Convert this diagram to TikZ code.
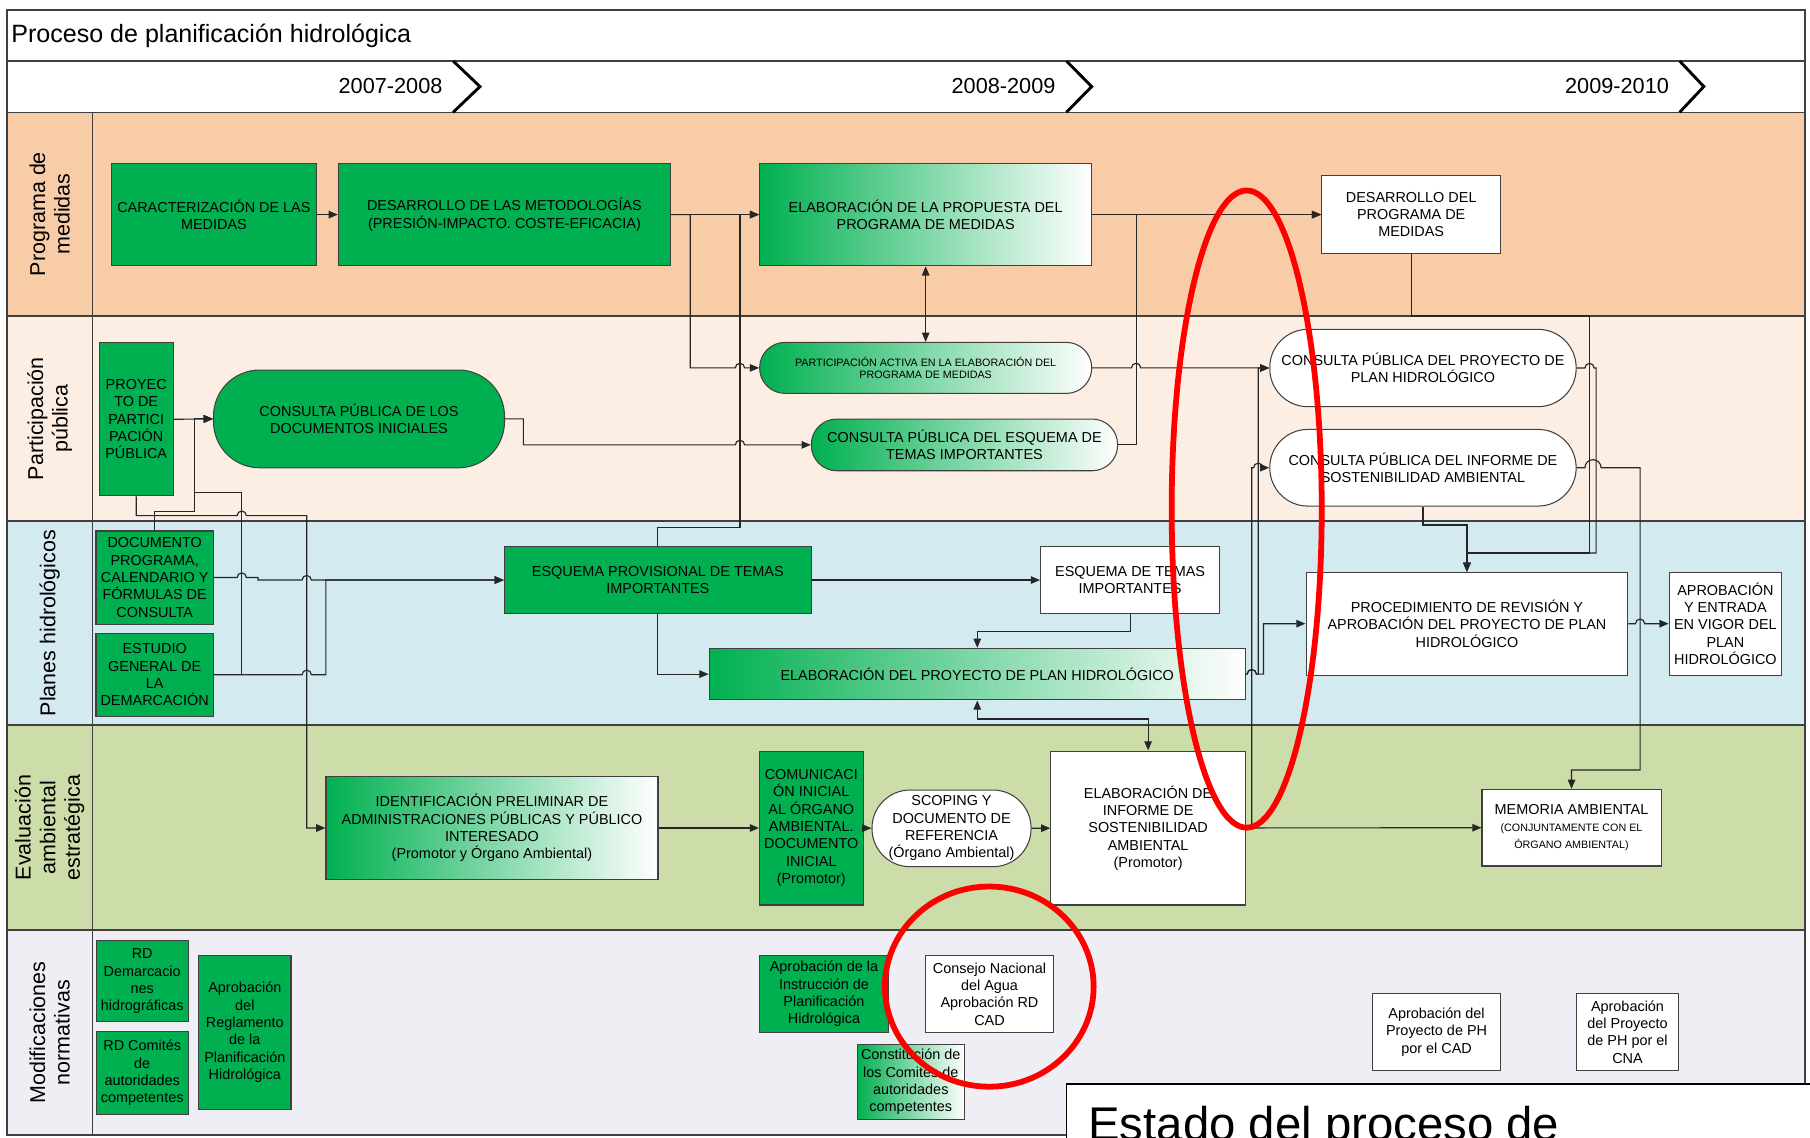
\documentclass[tikz,border=0pt]{standalone}
\usepackage{fontspec}
\setmainfont{Liberation Sans}
\usetikzlibrary{arrows.meta}
\definecolor{boxgreen}{RGB}{0,176,80}
\definecolor{lanepm}{RGB}{249,204,168}
\definecolor{lanepp}{RGB}{253,238,227}
\definecolor{laneph}{RGB}{210,234,240}
\definecolor{laneea}{RGB}{204,221,170}
\definecolor{lanemn}{RGB}{240,238,245}
\definecolor{edge}{RGB}{64,64,64}
\newcommand{\hop}[2]{-- (#1-4,#2) arc[start angle=180,end angle=360,radius=4]}
\newcommand{\smalltx}{\fontsize{9.3}{11}\selectfont}

\begin{document}
\begin{tikzpicture}[x=1pt,y=-1pt,
		tbox/.style={draw=edge,line width=0.9pt,align=center,inner sep=1pt,font=\fontsize{12.5}{15}\selectfont},
		gbox/.style={tbox,fill=boxgreen},
		wbox/.style={tbox,fill=white},
		fbox/.style={tbox,left color=boxgreen,right color=white},
		sz/.style 2 args={minimum width=#1pt,minimum height=#2pt},
		pill/.style={rounded corners=#1},
		conn/.style={draw=black!85,line width=1pt},
		arr/.style={conn,-{Triangle[length=8pt,width=6.5pt]}},
		dbl/.style={conn,{Triangle[length=8pt,width=6.5pt]}-{Triangle[length=8pt,width=6.5pt]}},
		lanelabel/.style={rotate=90,align=center,font=\fontsize{18.6}{21.3}\selectfont},
		year/.style={anchor=east,inner sep=0pt,font=\fontsize{18.8}{22}\selectfont},
		chev/.style={line width=2.5pt},
		ring/.style={draw=red,line width=5pt},
	]
	\path[use as bounding box] (0,0) rectangle (1568,985);
	\fill[white] (0,0) rectangle (1568,985);
	\fill[lanepm] (5.8,97.3) rectangle (1563.7,273.8);
	\fill[lanepp] (5.8,273.8) rectangle (1563.7,451.4);
	\fill[laneph] (5.8,451.4) rectangle (1563.7,628);
	\fill[laneea] (5.8,628) rectangle (1563.7,805.7);
	\fill[lanemn] (5.8,805.7) rectangle (1563.7,983.3);
	\foreach \y in {52.8,97.3,273.8,451.4,628,805.7}
		\draw[edge,line width=1.3pt] (5.8,\y) -- (1563.7,\y);
	\draw[edge,line width=1pt] (80,97.3) -- (80,983.3);
	\draw[edge,line width=1.5pt] (5.8,8.7) rectangle (1563.7,983.3);

	\node[anchor=base west,inner sep=0pt,font=\fontsize{21.7}{26}\selectfont] (title) at (9.7,37) {Proceso de planificación hidrológica};
	\node[year] (y1) at (383.5,74.5) {2007-2008};
	\node[year] (y2) at (914.5,74.5) {2008-2009};
	\node[year] (y3) at (1446,74.5) {2009-2010};
	\foreach \cx/\px in {392.5/415.8,923.8/945.7,1455/1476}
		\draw[chev] (\cx,52.8) -- (\px,75) -- (\cx,97.3);

	\node[lanelabel] (lpm) at (43,185.5) {Programa de\\medidas};
	\node[lanelabel] (lpp) at (43,362.6) {Participación\\pública};
	\node[lanelabel] (lph) at (43,539.7) {Planes hidrológicos};
	\node[lanelabel] (lea) at (43,716.9) {Evaluación\\ambiental\\estratégica};
	\node[lanelabel] (lmn) at (43,894.5) {Modificaciones\\normativas};

	\node[gbox,sz={177.1}{88.7}] (carmed) at (185.3,185.9) {CARACTERIZACIÓN DE LAS\\MEDIDAS};
	\node[gbox,sz={287.7}{88.7}] (desmet) at (437,185.9) {DESARROLLO DE LAS METODOLOGÍAS\\(PRESIÓN-IMPACTO. COSTE-EFICACIA)};
	\node[fbox,sz={287.7}{88.7}] (elaprop) at (801.9,185.9) {ELABORACIÓN DE LA PROPUESTA DEL\\PROGRAMA DE MEDIDAS};
	\node[wbox,sz={155}{67.3}] (desprog) at (1222.5,185.9) {DESARROLLO DEL\\PROGRAMA DE\\MEDIDAS};

	\node[gbox,sz={64.1}{132.5}] (proypart) at (118,363.2) {PROYEC\\TO DE\\PARTICI\\PACIÓN\\PÚBLICA};
	\node[gbox,pill=40pt,sz={252.1}{84.7}] (cpdoc) at (311,362.9) {CONSULTA PÚBLICA DE LOS\\DOCUMENTOS INICIALES};
	\node[fbox,pill=22pt,sz={287.7}{44.2},font=\smalltx] (partact) at (801.9,318.7) {PARTICIPACIÓN ACTIVA EN LA ELABORACIÓN DEL\\PROGRAMA DE MEDIDAS};
	\node[fbox,pill=22pt,sz={265.3}{44.8}] (cpeti) at (835.5,385.4) {CONSULTA PÚBLICA DEL ESQUEMA DE\\TEMAS IMPORTANTES};
	\node[wbox,pill=33pt,sz={265.4}{67}] (cpph) at (1232.7,318.8) {CONSULTA PÚBLICA DEL PROYECTO DE\\PLAN HIDROLÓGICO};
	\node[wbox,pill=33pt,sz={265.4}{66.4}] (cpisa) at (1232.7,405.2) {CONSULTA PÚBLICA DEL INFORME DE\\SOSTENIBILIDAD AMBIENTAL};

	\node[gbox,sz={101.7}{80.6}] (docprog) at (134,500.3) {DOCUMENTO\\PROGRAMA,\\CALENDARIO Y\\FÓRMULAS DE\\CONSULTA};
	\node[gbox,sz={101.7}{71.6}] (estgen) at (134,584.5) {ESTUDIO\\GENERAL DE\\LA\\DEMARCACIÓN};
	\node[gbox,sz={265.8}{57.7}] (esqprov) at (569.9,502.5) {ESQUEMA PROVISIONAL DE TEMAS\\IMPORTANTES};
	\node[wbox,sz={155.1}{57.7}] (esqti) at (979,502.5) {ESQUEMA DE TEMAS\\IMPORTANTES};
	\node[fbox,sz={464.5}{44.7}] (elaproy) at (846.6,584) {ELABORACIÓN DEL PROYECTO DE PLAN HIDROLÓGICO};
	\node[wbox,sz={278.8}{89}] (procrev) at (1270.8,540.3) {PROCEDIMIENTO DE REVISIÓN Y\\APROBACIÓN DEL PROYECTO DE PLAN\\HIDROLÓGICO};
	\node[wbox,sz={97.4}{89}] (aprob) at (1494.7,540.3) {APROBACIÓN\\Y ENTRADA\\EN VIGOR DEL\\PLAN\\HIDROLÓGICO};

	\node[fbox,sz={287.6}{88.9}] (identif) at (426.2,717.3) {IDENTIFICACIÓN PRELIMINAR DE\\ADMINISTRACIONES PÚBLICAS Y PÚBLICO\\INTERESADO\\(Promotor y Órgano Ambiental)};
	\node[gbox,sz={89.7}{133.4}] (comuni) at (702.8,717.3) {COMUNICACI\\ÓN INICIAL\\AL ÓRGANO\\AMBIENTAL.\\DOCUMENTO\\INICIAL\\(Promotor)};
	\node[wbox,pill=33pt,sz={137.8}{66.4}] (scoping) at (824.3,717.6) {SCOPING Y\\DOCUMENTO DE\\REFERENCIA\\(Órgano Ambiental)};
	\node[wbox,sz={168.5}{133.4}] (elainf) at (994.6,717.3) {ELABORACIÓN DE\\INFORME DE\\SOSTENIBILIDAD\\AMBIENTAL\\(Promotor)};
	\node[wbox,sz={155.1}{66.4}] (memoria) at (1361.4,717) {MEMORIA AMBIENTAL\\{\smalltx (CONJUNTAMENTE CON EL}\\{\smalltx ÓRGANO AMBIENTAL)}};

	\node[gbox,sz={80}{70.1}] (rddem) at (123.2,850) {RD\\Demarcacio\\nes\\hidrográficas};
	\node[gbox,sz={80}{71.3}] (rdcom) at (123.2,929.5) {RD Comités\\de\\autoridades\\competentes};
	\node[gbox,sz={80}{132.8}] (aprreg) at (212.1,894.4) {Aprobación\\del\\Reglamento\\de la\\Planificación\\Hidrológica};
	\node[gbox,sz={111.5}{67.3}] (aprins) at (713.8,861) {Aprobación de la\\Instrucción de\\Planificación\\Hidrológica};
	\node[wbox,sz={110.1}{67.3}] (cna) at (857.2,861) {Consejo Nacional\\del Agua\\Aprobación RD\\CAD};
	\node[fbox,sz={92.9}{65}] (constit) at (789,937.2) {Constitución de\\los Comités de\\autoridades\\competentes};
	\node[wbox,sz={111}{67}] (aprcad) at (1244.5,894) {Aprobación del\\Proyecto de PH\\por el CAD};
	\node[wbox,sz={87.7}{67}] (aprcna) at (1409.9,894) {Aprobación\\del Proyecto\\de PH por el\\CNA};

	\draw[arr] (carmed) -- (desmet);
	\draw[arr] (desmet) -- (elaprop);
	\draw[arr] (desmet.east) -- (598,185.9) -- (598,318.7) \hop{641}{318.7} -- (partact.west);
	\draw[arr] (esqprov.north) -- (569.9,457) -- (641,457) -- (641,185.9) -- (elaprop.west);
	\draw[dbl] (elaprop) -- (partact);
	\draw[arr] (elaprop) -- (desprog);
	\draw[arr] (cpeti.east) -- (984.2,385.4) -- (984.2,185.9) -- (desprog.west);
	\draw[arr] (partact.east) \hop{984.2}{318.7} -- (1090,318.7) -- (cpph.west);
	\draw[arr] (proypart.east) -- (cpdoc.west);
	\draw[arr] (docprog.north) -- (134,443) -- (168.3,443) -- (168.3,362.9) -- (cpdoc.west);
	\draw[arr] (estgen.east) -- (209.4,584.5) -- (209.4,426.5) -- (168.3,426.5) -- (168.3,362.9) -- (cpdoc.west);
	\draw[arr] (proypart.south) -- (118,446.7) \hop{209.4}{446.7} -- (265.7,446.7) -- (265.7,717.3) -- (identif.west);
	\draw[arr] (docprog.east) \hop{209.4}{500.3} -- (223.5,500.3) -- (223.5,502.5) \hop{265.7}{502.5} -- (esqprov.west);
	\draw[arr] (estgen.east) \hop{265.7}{584.5} -- (282.3,584.5) -- (282.3,502.5) -- (esqprov.west);
	\draw[arr] (cpdoc.east) -- (453.4,362.9) -- (453.4,385.4) \hop{641}{385.4} -- (cpeti.west);
	\draw[arr] (esqprov.south) -- (569.9,584) -- (elaproy.west);
	\draw[arr] (esqprov) -- (esqti);
	\draw[arr] (esqti.south) -- (979,547.2) -- (846.6,547.2) -- (elaproy.north);
	\draw[dbl] (elaproy.south) -- (846.6,622.9) -- (994.6,622.9) -- (elainf.north);
	\draw[arr] (elaproy.east) \hop{1084.4}{584} -- (1094.5,584) -- (1094.5,540.3) -- (procrev.west);
	\draw[arr] (elaproy.east) \hop{1084.4}{584} -- (1090,584) -- (1090,318.8) -- (cpph.west);
	\draw[arr] (elainf) -- (memoria);
	\draw[arr] (elainf.east) -- (1084.4,717.3) -- (1084.4,405.2) \hop{1090}{405.2} -- (cpisa.west);
	\draw[arr] (cpisa.south) -- (1232.7,454.8) -- (1270.8,454.8) -- (procrev.north);
	\draw[arr] (desprog.south) -- (1222.5,273.8) -- (1377,273.8) -- (1377,479) -- (1270.8,479) -- (procrev.north);
	\draw[arr] (cpph.east) \hop{1377}{318.8} -- (1382.7,318.8) -- (1382.7,479) -- (1270.8,479) -- (procrev.north);
	\draw[arr] (cpisa.east) -- (1373,405.2) arc[start angle=180,end angle=360,radius=7] -- (1420.8,405.2) -- (1420.8,667) -- (1361.4,667) -- (memoria.north);
	\draw[arr] (procrev.east) \hop{1420.8}{540.3} -- (aprob.west);
	\draw[arr] (identif) -- (comuni);
	\draw[arr] (comuni) -- (scoping);
	\draw[arr] (scoping) -- (elainf);

	\draw[ring] (1080,441) ellipse [x radius=65,y radius=276];
	\draw[ring] (857,854.7) ellipse [x radius=90.4,y radius=86.7];

	\draw[black,line width=1.5pt,fill=white] (923.8,939) rectangle (1575,1000);
	\node[anchor=base west,inner sep=0pt,font=\fontsize{41}{49}\selectfont] (estado) at (942.6,988) {Estado del proceso de};
\end{tikzpicture}
\end{document}
